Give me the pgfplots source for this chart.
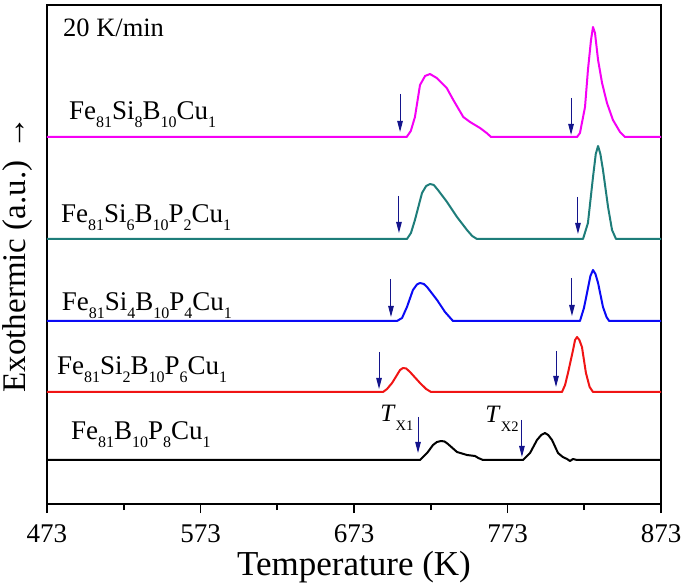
\documentclass[border=0pt]{standalone}
\usepackage{fontspec}
\setmainfont{Liberation Serif}
\usepackage{pgfplots}
\pgfplotsset{compat=1.18}
\usetikzlibrary{arrows.meta}
\definecolor{cmag}{RGB}{245,0,245}
\definecolor{cteal}{RGB}{30,125,122}
\definecolor{cblue}{RGB}{10,10,245}
\definecolor{cred}{RGB}{240,20,20}
\definecolor{cnavy}{RGB}{20,20,140}
\newcommand\sub[1]{\raisebox{-7.5bp}{\fontsize{16bp}{16bp}\selectfont #1}}
\newcommand\lab{\fontsize{27bp}{27bp}\selectfont}
\begin{document}
\begin{tikzpicture}
\begin{axis}[
  scale only axis, width=614bp, height=499bp,
  xmin=473, xmax=873, ymin=0, ymax=499,
  xtick={473,573,673,773,873}, minor xtick={523,623,723,823},
  ytick=\empty,
  xtick pos=bottom, tick align=outside,
  major tick length=9bp, minor tick length=6bp,
  every tick/.style={black, line width=1.6bp},
  axis line style={line width=2.2bp},
  /pgf/number format/assume math mode=true,
  /pgf/number format/set thousands separator={},
  xticklabel style={font=\fontsize{27bp}{27bp}\selectfont, anchor=base, yshift=-29bp},
  xlabel={Temperature (K)},
  ylabel={Exothermic (a.u.) →},
  xlabel style={font=\fontsize{35bp}{35bp}\selectfont, at={(axis description cs:0.5,-0.1423)}, anchor=base},
  ylabel style={font=\fontsize{33bp}{33bp}\selectfont, at={(axis description cs:-0.0472,0.5)}, anchor=center},
  every axis plot/.append style={line width=2bp, line join=round, mark=none},
  clip=false,
]
% Fe81Si8B10Cu1
\addplot[cmag] coordinates {(473,367) (707.3,367) (710,373) (712.7,387) (716.0,419) (719.3,428) (722.5,430) (726.9,426) (733.4,416) (737.7,404) (744.2,387) (748.6,382) (755.1,376) (759.4,371) (762.3,367) (818.3,367) (820.2,371) (823.5,397) (825.4,434) (827.4,464) (828.7,477) (830.0,471) (832.0,444) (834.6,421) (837.8,401) (841.7,384) (846.3,372) (849.5,367) (873,367)};
% Fe81Si6B10P2Cu1
\addplot[cteal] coordinates {(473,265) (707.5,265) (710.1,271) (712.7,284) (717.3,311) (720,318) (722.5,320) (725,319) (727.7,314) (733.6,302) (740.1,287) (746.6,274) (750,268) (753.1,265) (822.2,265) (825.4,281) (828.7,327) (830.5,350) (832.0,358) (833.5,350) (835.2,334) (838.5,297) (841.1,274) (843.7,265) (873,265)};
% Fe81Si4B10P4Cu1
\addplot[cblue] coordinates {(473,183) (701.0,183) (704.3,186) (707.5,197) (711.4,214) (714,219.5) (716.0,221) (718.5,220) (720.6,217) (727.1,204) (732.3,192) (737.5,183) (820.2,183) (822.8,196) (824.8,211) (827,228) (828.7,234) (830.3,230) (832.0,221) (835.2,197) (837.5,187) (839.2,183) (873,183)};
% Fe81Si2B10P6Cu1
\addplot[cred] coordinates {(473,112) (691.9,112) (694.5,115) (697.8,121) (701.0,129) (703,134) (704.9,136) (707,135.5) (709.5,132) (716.0,121) (720,115) (723.2,112) (808.5,112) (810.5,119) (812.4,131) (815.7,154) (817,164) (818.3,167) (819.8,164) (821.5,157) (824.1,131) (826.5,117) (828.7,112) (873,112)};
% Fe81B10P8Cu1
\addplot[black] coordinates {(473,44) (716.0,44) (720.6,51) (724.5,59) (727,62) (729.7,63) (732,62.5) (734.2,60) (740.1,52) (746.6,49) (751.8,48) (754,46) (757.0,44) (783.1,44) (787.7,51) (792.2,64) (795,69) (797.4,71) (799.5,69) (802.0,64) (805.9,51) (809,47) (811.8,45) (813.7,43) (815.7,45) (818.3,44) (873,44)};
% onset arrows
\begin{scope}[cnavy, line width=1bp, -{Triangle[length=11bp,width=5.5bp]}]
\draw (axis cs:703.0,410) -- (axis cs:703.0,372);
\draw (axis cs:814.4,406) -- (axis cs:814.4,369);
\draw (axis cs:702.3,308) -- (axis cs:702.3,271);
\draw (axis cs:818.9,307) -- (axis cs:818.9,270);
\draw (axis cs:697.1,225) -- (axis cs:697.1,187);
\draw (axis cs:815.0,226) -- (axis cs:815.0,188);
\draw (axis cs:689.3,152) -- (axis cs:689.3,115);
\draw (axis cs:804.6,153) -- (axis cs:804.6,117);
\draw (axis cs:714.7,87) -- (axis cs:714.7,51);
\draw (axis cs:782.4,84) -- (axis cs:782.4,47);
\end{scope}
% labels
\node[anchor=base west, inner sep=0pt] at (axis cs:483.4,467) {\fontsize{26.5bp}{26.5bp}\selectfont 20 K/min};
\node[anchor=base west, inner sep=0pt] at (axis cs:487.3,384) {\lab Fe\sub{81}Si\sub{8}B\sub{10}Cu\sub{1}};
\node[anchor=base west, inner sep=0pt] at (axis cs:482.0,281) {\lab Fe\sub{81}Si\sub{6}B\sub{10}P\sub{2}Cu\sub{1}};
\node[anchor=base west, inner sep=0pt] at (axis cs:482.5,193) {\lab Fe\sub{81}Si\sub{4}B\sub{10}P\sub{4}Cu\sub{1}};
\node[anchor=base west, inner sep=0pt] at (axis cs:479.5,129) {\lab Fe\sub{81}Si\sub{2}B\sub{10}P\sub{6}Cu\sub{1}};
\node[anchor=base west, inner sep=0pt] at (axis cs:488.6,64) {\lab Fe\sub{81}B\sub{10}P\sub{8}Cu\sub{1}};
\node[anchor=base west, inner sep=0pt] at (axis cs:690.0,82) {\fontsize{25bp}{25bp}\selectfont\textit{T}\raisebox{-9bp}{\fontsize{14.5bp}{14.5bp}\selectfont X1}};
\node[anchor=base west, inner sep=0pt] at (axis cs:758.5,81) {\fontsize{25bp}{25bp}\selectfont\textit{T}\raisebox{-9bp}{\fontsize{14.5bp}{14.5bp}\selectfont X2}};
\end{axis}
\pgfresetboundingbox
\path[use as bounding box] ([xshift=-47bp,yshift=-84bp]current axis.south west) rectangle ([xshift=24bp,yshift=5bp]current axis.north east);
\end{tikzpicture}
\end{document}
